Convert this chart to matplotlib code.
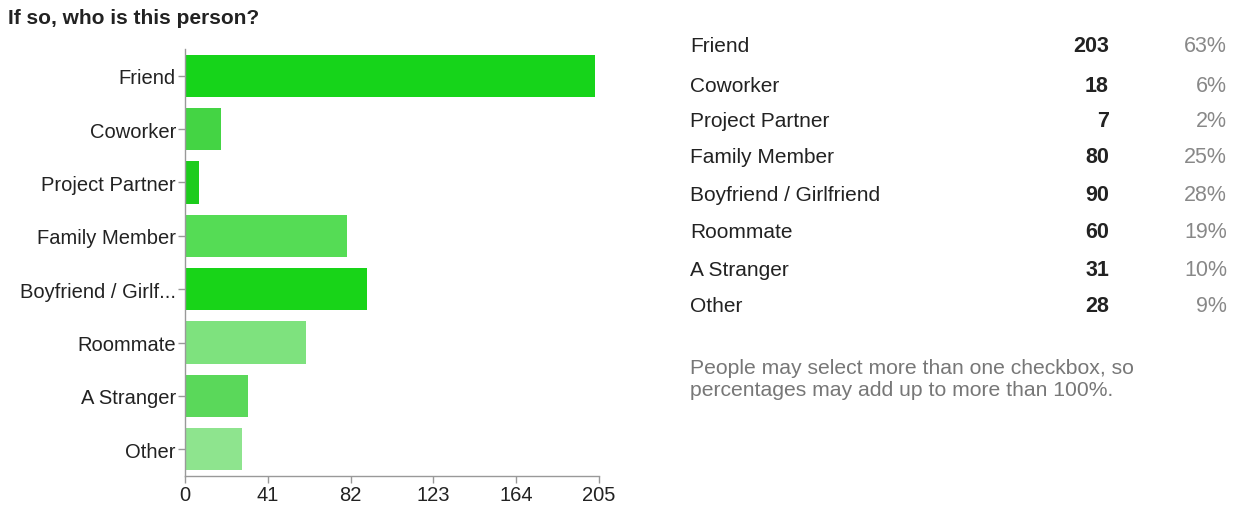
import matplotlib
matplotlib.use("Agg")
import matplotlib.pyplot as plt

categories = ["Friend", "Coworker", "Project Partner", "Family Member",
              "Boyfriend / Girlfriend", "Roommate", "A Stranger", "Other"]
tick_labels = ["Friend", "Coworker", "Project Partner", "Family Member",
               "Boyfriend / Girlf...", "Roommate", "A Stranger", "Other"]
counts = [203, 18, 7, 80, 90, 60, 31, 28]
percents = ["63%", "6%", "2%", "25%", "28%", "19%", "10%", "9%"]
x_ticks = [0, 41, 82, 123, 164, 205]
bar_colors = ["#16d41a", "#44d444", "#1ccc1c", "#55dc55",
              "#18d418", "#7ee27e", "#5ad85a", "#8ee48e"]

plt.rcParams['font.family'] = ['Liberation Sans', 'DejaVu Sans']

W, H = 1238, 506
fig = plt.figure(figsize=(W / 100, H / 100), dpi=100)
ax = fig.add_axes([185 / W, 1 - 477 / H, (599 - 185) / W, (477 - 50) / H])

ypos = list(range(len(categories)))
ax.barh(ypos, counts, height=0.79, color=bar_colors, edgecolor='none')
ax.set_xlim(0, 205)
ax.set_ylim(len(categories) - 0.5, -0.5)
ax.set_yticks(ypos)
ax.set_yticklabels(tick_labels, fontsize=14.5, color='#222222')
ax.set_xticks(x_ticks)
ax.set_xticklabels([str(t) for t in x_ticks], fontsize=14.5, color='#222222')
for s in ['top', 'right']:
    ax.spines[s].set_visible(False)
for s in ['left', 'bottom']:
    ax.spines[s].set_color('#999999')
    ax.spines[s].set_linewidth(1)
ax.tick_params(axis='y', colors='#999999', length=5, width=1, pad=1.5,
               labelcolor='#222222')
ax.tick_params(axis='x', colors='#999999', length=5, width=1, pad=1.5,
               labelcolor='#222222')

fig.text(8 / W, 1 - 18 / H, "If so, who is this person?", fontsize=15,
         fontweight='bold', color='#222222', va='center', ha='left')

row_y = [47, 86, 122, 158, 196, 233, 270, 307]
for cat, c, p, y in zip(categories, counts, percents, row_y):
    fig.text(690 / W, 1 - y / H, cat, fontsize=15, color='#222222',
             va='center', ha='left')
    fig.text(1109 / W, 1 - y / H, str(c), fontsize=15.5, color='#222222',
             fontweight='bold', va='center', ha='right')
    fig.text(1227 / W, 1 - y / H, p, fontsize=15.5, color='#888888',
             va='center', ha='right')

fig.text(690 / W, 1 - 368 / H, "People may select more than one checkbox, so",
         fontsize=15.2, color='#777777', va='center', ha='left')
fig.text(690 / W, 1 - 391 / H, "percentages may add up to more than 100%.",
         fontsize=15.2, color='#777777', va='center', ha='left')

fig.savefig("out.png", dpi=100)
